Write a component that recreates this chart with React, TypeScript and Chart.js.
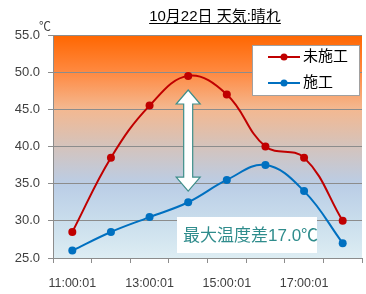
import React, { useEffect, useRef } from "react";
import { Chart, registerables } from "chart.js";
Chart.register(...registerables);

const categories = ["11:00:01", "12:00:01", "13:00:01", "14:00:01", "15:00:01", "16:00:01", "17:00:01", "18:00:01"];
const untreated = [28.5, 38.5, 45.5, 49.5, 47.0, 40.0, 38.5, 30.0];
const treated = [26.0, 28.5, 30.5, 32.5, 35.5, 37.5, 34.0, 27.0];
const seriesNames = ["未施工", "施工"];
const titleText = "10月22日 天気:晴れ";
const unitText = "℃";
const noteText = "最大温度差17.0℃";
const yMin = 25;
const yMax = 55;
const arrowFrom = 47.6;
const arrowTo = 34.0;
const arrowIndex = 3;

const RED = "#C00000";
const BLUE = "#0070C0";
const FONT = "'Liberation Sans', 'Noto Sans CJK JP', sans-serif";

const decor = {
  id: "decor",
  beforeDraw(chart: any) {
    const { ctx, chartArea: a } = chart;
    const g = ctx.createLinearGradient(0, a.top, 0, a.bottom);
    g.addColorStop(0, "#FF6600");
    g.addColorStop(0.17, "#FF8A42");
    g.addColorStop(0.33, "#F4B890");
    g.addColorStop(0.5, "#D4C3BC");
    g.addColorStop(0.67, "#BACDE6");
    g.addColorStop(0.83, "#C9DDEC");
    g.addColorStop(1, "#DDEDF3");
    ctx.save();
    ctx.fillStyle = g;
    ctx.fillRect(a.left, a.top, a.right - a.left, a.bottom - a.top);
    ctx.restore();
  },
  afterDatasetsDraw(chart: any) {
    const { ctx } = chart;
    const xs = chart.scales.x;
    const ys = chart.scales.y;
    ctx.save();
    // arrow
    const cx = xs.getPixelForValue(arrowIndex);
    const top = ys.getPixelForValue(arrowFrom);
    const bot = ys.getPixelForValue(arrowTo);
    const hw = 12, sw = 4.5, hl = 14;
    ctx.beginPath();
    ctx.moveTo(cx, top);
    ctx.lineTo(cx + hw, top + hl);
    ctx.lineTo(cx + sw, top + hl);
    ctx.lineTo(cx + sw, bot - hl);
    ctx.lineTo(cx + hw, bot - hl);
    ctx.lineTo(cx, bot);
    ctx.lineTo(cx - hw, bot - hl);
    ctx.lineTo(cx - sw, bot - hl);
    ctx.lineTo(cx - sw, top + hl);
    ctx.lineTo(cx - hw, top + hl);
    ctx.closePath();
    ctx.fillStyle = "#FFFFFF";
    ctx.fill();
    ctx.strokeStyle = "#3E8E8A";
    ctx.lineWidth = 1.2;
    ctx.stroke();

    // note box
    ctx.fillStyle = "#FFFFFF";
    ctx.fillRect(177, 217, 140, 36);
    ctx.fillStyle = "#2F8C8C";
    ctx.font = "17px " + FONT;
    ctx.textAlign = "left";
    ctx.textBaseline = "middle";
    ctx.fillText(noteText, 183, 236);

    // legend
    ctx.fillStyle = "#FFFFFF";
    ctx.fillRect(252, 45, 108, 51);
    ctx.strokeStyle = "#A0A0A0";
    ctx.lineWidth = 1;
    ctx.strokeRect(252.5, 45.5, 107, 50);
    const rows = [
      { c: RED, t: seriesNames[0], y: 57 },
      { c: BLUE, t: seriesNames[1], y: 83 },
    ];
    for (const r of rows) {
      ctx.strokeStyle = r.c;
      ctx.lineWidth = 2;
      ctx.beginPath();
      ctx.moveTo(268, r.y);
      ctx.lineTo(300, r.y);
      ctx.stroke();
      ctx.fillStyle = r.c;
      ctx.beginPath();
      ctx.arc(284, r.y, 3.5, 0, Math.PI * 2);
      ctx.fill();
      ctx.fillStyle = "#000000";
      ctx.font = "15px " + FONT;
      ctx.textBaseline = "middle";
      ctx.fillText(r.t, 303, r.y);
    }

    // title
    ctx.fillStyle = "#000000";
    ctx.font = "15px " + FONT;
    ctx.textAlign = "center";
    ctx.textBaseline = "alphabetic";
    ctx.fillText(titleText, 215, 21);
    const w = ctx.measureText(titleText).width;
    ctx.strokeStyle = "#000000";
    ctx.lineWidth = 1;
    ctx.beginPath();
    ctx.moveTo(215 - w / 2, 23.5);
    ctx.lineTo(215 + w / 2, 23.5);
    ctx.stroke();

    // unit
    ctx.fillStyle = "#404040";
    ctx.font = "12px " + FONT;
    ctx.textAlign = "center";
    ctx.fillText(unitText, 45, 31);
    ctx.restore();
  },
};

export default function App() {
  const ref = useRef<HTMLCanvasElement>(null);
  useEffect(() => {
    const chart = new Chart(ref.current!, {
      type: "line",
      data: {
        labels: categories,
        datasets: [
          {
            label: seriesNames[0],
            data: untreated,
            borderColor: RED,
            backgroundColor: RED,
            borderWidth: 2,
            pointRadius: 4,
            pointBackgroundColor: RED,
            pointBorderWidth: 0,
            tension: 0.4,
          },
          {
            label: seriesNames[1],
            data: treated,
            borderColor: BLUE,
            backgroundColor: BLUE,
            borderWidth: 2,
            pointRadius: 4,
            pointBackgroundColor: BLUE,
            pointBorderWidth: 0,
            tension: 0.4,
          },
        ],
      },
      options: {
        animation: false,
        responsive: false,
        layout: { padding: { top: 35, right: 0, left: 0, bottom: 0 } },
        plugins: { legend: { display: false }, title: { display: false }, tooltip: { enabled: false } },
        scales: {
          x: {
            offset: true,
            grid: { offset: true, drawOnChartArea: false, color: "#8C8C8C", tickLength: 5, tickColor: "#8C8C8C" },
            border: { color: "#8C8C8C" },
            ticks: {
              autoSkip: false,
              maxRotation: 0,
              padding: 13,
              color: "#404040",
              font: { family: FONT, size: 12.5 },
              callback: (v: any, i: number) => (i % 2 === 0 ? categories[i] : ""),
            },
            afterFit: (s: any) => { s.height = 36; },
          },
          y: {
            min: yMin,
            max: yMax,
            grid: { color: "#8C8C8C", tickLength: 5, tickColor: "#8C8C8C" },
            border: { color: "#8C8C8C" },
            ticks: {
              stepSize: 5,
              padding: 8,
              color: "#404040",
              font: { family: FONT, size: 13 },
              callback: (v: any) => Number(v).toFixed(1),
            },
            afterFit: (s: any) => { s.width = 53; },
          },
        },
      },
      plugins: [decor],
    } as any);
    return () => chart.destroy();
  }, []);
  return (
    <div style={{ position: "absolute", left: 0, top: 0, width: 366, height: 294, background: "#FFFFFF" }}>
      <canvas ref={ref} width={366} height={294} style={{ display: "block" }} />
    </div>
  );
}
